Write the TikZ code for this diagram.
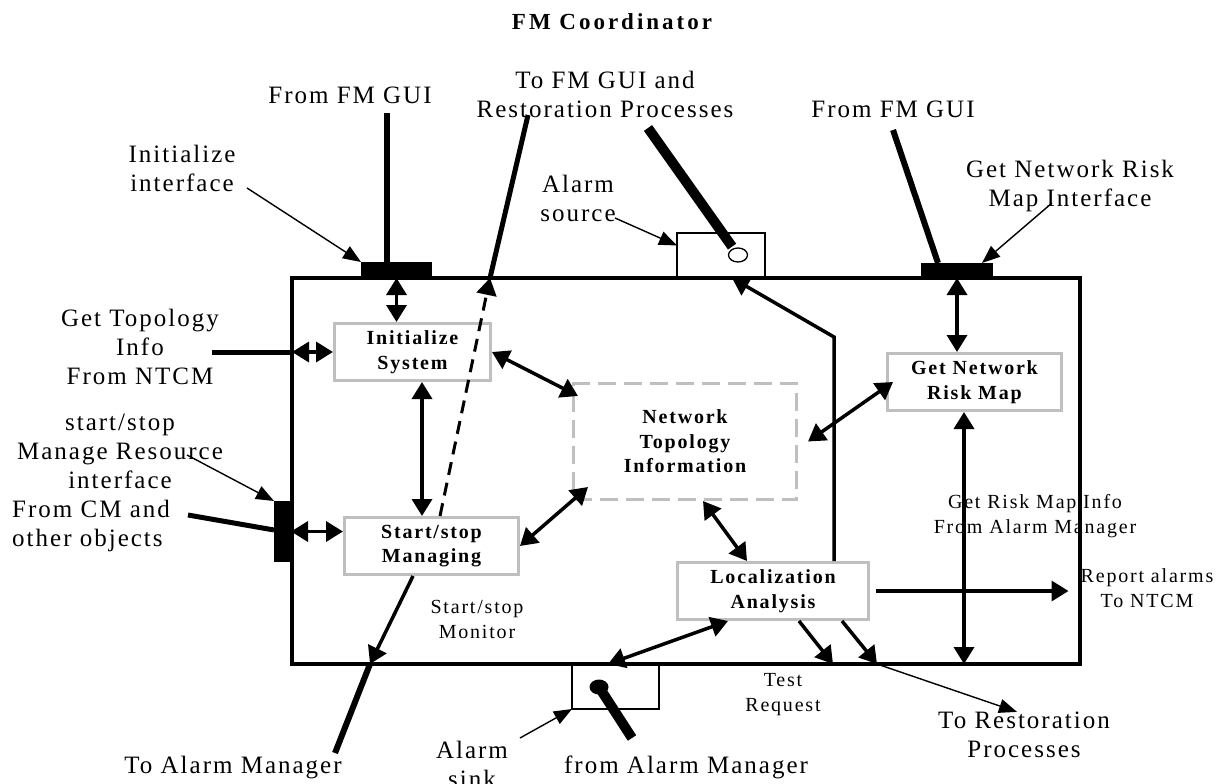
\documentclass[tikz,border=0pt]{standalone}
\usepackage{fontspec}
\setmainfont{Liberation Serif}
\newfontfamily\lblfont{Liberation Serif}[LetterSpace=8]
\newfontfamily\smlfont{Liberation Serif}[LetterSpace=9]
\newfontfamily\boxfont{Liberation Serif}[LetterSpace=9]
\newfontfamily\ttlfont{Liberation Serif}[LetterSpace=13]
\usetikzlibrary{arrows.meta,calc,shapes.geometric}

\begin{document}
\begin{tikzpicture}[x=1pt,y=-1pt,
  lblbig/.style={font=\lblfont\fontsize{25}{29}\selectfont, align=center, inner sep=0pt},
  lblsmall/.style={font=\smlfont\fontsize{20}{25}\selectfont, align=center, inner sep=0pt},
  procbox/.style={draw=gray!50, line width=3pt, font=\boxfont\bfseries\fontsize{20}{24.5}\selectfont,
                  align=center, inner sep=0pt},
  iobar/.style={fill=black, draw=none, inner sep=0pt, outer sep=0pt},
  portbox/.style={draw=black, line width=1.5pt, fill=white, inner sep=0pt, outer sep=0pt},
  conn/.style={line width=3.5pt, -{Triangle[length=17pt,width=20pt]}},
  biconn/.style={line width=3.5pt, {Triangle[length=17pt,width=20pt]}-{Triangle[length=17pt,width=20pt]}},
  callout/.style={line width=1.4pt, -{Triangle[length=18pt,width=14pt]}},
  wireline/.style={line width=6pt},
  heavyline/.style={line width=10pt},
]
\useasboundingbox (0,0) rectangle (1223,784);

% title
\node[font=\ttlfont\bfseries\fontsize{23}{28}\selectfont, inner sep=0pt] (title) at (612,22) {FM Coordinator};

% ports sitting on the frame
\node[portbox, minimum width=88pt, minimum height=45pt] (asrc) at (721,255.5) {};
\node[portbox, minimum width=87pt, minimum height=45pt] (asink) at (615.5,686.5) {};
\node[ellipse, draw, line width=1.3pt, fill=white, minimum width=19pt, minimum height=14pt, inner sep=0pt] (asrcdot) at (738,255) {};
\node[ellipse, fill=black, minimum width=19pt, minimum height=15pt, inner sep=0pt] (asinkdot) at (599,687) {};

% the coordinator frame
\node[draw, line width=3.2pt, minimum width=788pt, minimum height=386pt, inner sep=0pt, outer sep=0pt] (frame) at (686,471) {};

% interface bars
\node[iobar, minimum width=71pt, minimum height=16pt] (ibar) at (396.5,270) {};
\node[iobar, minimum width=72pt, minimum height=15pt] (rbar) at (957,270.5) {};
\node[iobar, minimum width=17pt, minimum height=61pt] (lbar) at (282.5,531.5) {};

% processes
\node[procbox, minimum width=156pt, minimum height=57pt] (init) at (412.5,352) {Initialize\\System};
\node[procbox, minimum width=174pt, minimum height=57pt] (start) at (431.5,546) {Start/stop\\Managing};
\node[procbox, minimum width=191pt, minimum height=57pt] (loc) at (773,591) {Localization\\Analysis};
\node[procbox, minimum width=174pt, minimum height=57pt] (risk) at (974.5,382) {Get Network\\Risk Map};
\node[procbox, dash pattern=on 18pt off 8pt, minimum width=223pt, minimum height=116pt] (topo) at (685,441.5) {Network\\Topology\\Information};

% outside labels
\node[lblbig] (guiL) at (350,95) {From FM GUI};
\node[lblbig] (guiR) at (893,109) {From FM GUI};
\node[lblbig] (toguilbl) at (605,94) {To FM GUI and\\Restoration Processes};
\node[lblbig] (iniflbl) at (182,168) {Initialize\\interface};
\node[lblbig] (srclbl) at (578,198) {Alarm\\source};
\node[lblbig] (risklbl) at (1070,186) {Get Network Risk\\Map Interface};
\node[lblbig] (topolbl) at (140,347) {Get Topology\\Info\\From NTCM};
\node[lblbig] (mrlbl) at (120,451) {start/stop\\Manage Resource\\interface};
\node[lblbig, align=left, anchor=west] (cmlbl) at (12,526) {From CM and\\other objects};
\node[lblbig] (amlbl) at (233,768) {To Alarm Manager};
\node[lblbig] (sinklbl) at (472,764) {Alarm\\sink};
\node[lblbig] (fromamlbl) at (686,767) {from Alarm Manager};
\node[lblbig] (restlbl) at (1024,735) {To Restoration\\Processes};
\node[lblsmall] (monlbl) at (477,619) {Start/stop\\Monitor};
\node[lblsmall] (testlbl) at (783,695) {Test\\Request};
\node[lblsmall] (rmlbl) at (1035,516) {Get Risk Map Info\\From Alarm Manager};
\node[lblsmall] (rptlbl) at (1147,588) {Report alarms\\To NTCM};

% free ends of the outside wires
\coordinate (guiLtop) at (387,113);
\coordinate (guiRtop) at (893,130);
\coordinate (toguitop) at (528,115);
\coordinate (toguiport) at (490,278);
\coordinate (srcwire) at (648,128);
\coordinate (topoin) at (212,352);
\coordinate (cmin) at (188,515);
\coordinate (amport) at (370,664);
\coordinate (amout) at (335,753);
\coordinate (sinkwire) at (632,738);
\coordinate (iniftail) at (247,188);
\coordinate (srctail) at (615,218);
\coordinate (risktail) at (1052,203);
\coordinate (mrtail) at (187,455);
\coordinate (sinktail) at (520,738);
\coordinate (isx) at ($(init.south)+(9.5,0)$);
\coordinate (riskdrop) at ($(risk.south)+(-10.5,0)$);
\coordinate (restport) at ($(frame.south)+(191,0)$);

% wires from outside
\draw[wireline] (guiLtop) -- (guiLtop |- ibar.north);
\draw[wireline] (guiRtop) -- ($(rbar.north)+(-19,0)$);
\draw[line width=5pt] (toguitop) -- (toguiport);
\draw[heavyline, shorten >=2pt] (srcwire) -- (asrcdot);
\draw[line width=5pt] (topoin) -- (topoin -| frame.west);
\draw[line width=5pt] (cmin) -- ($(lbar.west)+(0,-1.5)$);
\draw[wireline] (amport) -- (amout);
\draw[heavyline] (asinkdot.center) -- (sinkwire);

% callouts
\draw[callout] (iniftail) -- (ibar.north west);
\draw[callout] (srctail) -- ($(asrc.west)+(0,-10)$);
\draw[callout] (risktail) -- ($(rbar.north)+(25,0)$);
\draw[callout] (mrtail) -- (lbar.north west);
\draw[callout] (sinktail) -- (asink.south west);
\draw[callout] (restport) -- ($(restlbl.north)+(-7,0)$);

% internal flows
\draw[biconn] (ibar.south) -- (ibar.south |- init.north);
\draw[biconn] (rbar.south) -- (rbar.south |- risk.north);
\draw[biconn] (topoin -| frame.west) -- (init.west);
\draw[biconn] (lbar.east) -- (lbar.east -| start.west);
\draw[biconn] (isx) -- (isx |- start.north);
\draw[biconn] (riskdrop) -- (riskdrop |- frame.south);
\draw[biconn] (init.east) -- ($(topo.north west)+(6,14)$);
\draw[biconn] (start.east) -- ($(topo.south west)+(16,-14)$);
\draw[biconn] ($(topo.east)+(10,0)$) -- ($(risk.west)+(7,0)$);
\draw[biconn] ($(topo.south)+(18,0)$) -- ($(loc.north)+(-26,0)$);
\draw[biconn] ($(loc.south)+(-45,0)$) -- ($(asink.north)+(-7.5,0)$);
\draw[conn] ($(loc.south)+(26,0)$) -- ($(frame.south)+(147,0)$);
\draw[conn] ($(loc.south)+(69,0)$) -- (restport);
\draw[conn, shorten <=6pt, shorten >=12pt] (loc.east) -- (loc.east -| rptlbl.west);
\draw[conn] ($(loc.north)+(61,0)$) -- ++(0,-224) -- ($(asrc.south)+(11,0)$);
\draw[conn] ($(start.south)+(-18.5,0)$) -- (amport);
\draw[line width=3pt, dash pattern=on 13pt off 8pt, -{Triangle[length=17pt,width=20pt]}]
  ($(start.north)+(8.5,0)$) -- (toguiport);
\end{tikzpicture}
\end{document}
